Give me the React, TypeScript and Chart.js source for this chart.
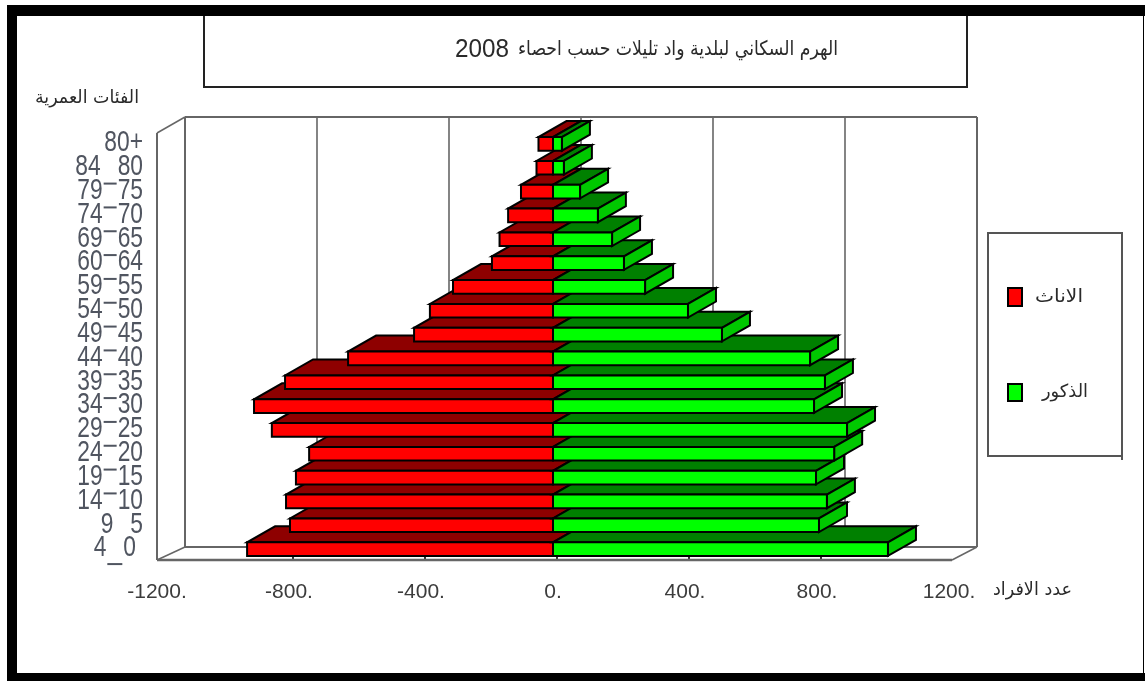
import React, { useEffect, useRef } from "react";
import { Chart, registerables } from "chart.js";

Chart.register(...registerables);

const ageGroups = ["80+", "84 80", "79¯75", "74¯70", "69¯65", "60¯64", "59¯55", "54¯50", "49¯45", "44¯40", "39¯35", "34¯30", "29¯25", "24¯20", "19¯15", "14¯10", "9 5", "4_0"];
const females = [-44, -50, -97, -136, -162, -185, -303, -373, -421, -621, -812, -906, -852, -739, -779, -809, -797, -927];
const males = [27, 33, 82, 136, 179, 215, 279, 409, 512, 779, 824, 791, 891, 852, 797, 830, 806, 1015];
const femaleLabel = "الاناث";
const maleLabel = "الذكور";
const titleText = "الهرم السكاني لبلدية واد تليلات حسب احصاء";
const titleYear = "2008";
const xAxisTitle = "عدد الافراد";
const yAxisTitle = "الفئات العمرية";
const xTickStep = 400;
const xLimit = 1200;

const RED = "#ff0000", RED_TOP = "#8e0000";
const GREEN = "#00ff00", GREEN_TOP = "#008000", GREEN_SIDE = "#00c800";
const WALL = "#666666";
const LABEL = "#505560";
const ARABIC = '"DejaVu Sans", sans-serif';
const LATIN = '"Liberation Sans", sans-serif';

function fitText(ctx: CanvasRenderingContext2D, text: string, left: number, right: number, cy: number, size: number, color = "#2a2a2a", font = ARABIC) {
  ctx.save();
  ctx.font = `${size}px ${font}`;
  ctx.fillStyle = color;
  ctx.textAlign = "left";
  ctx.textBaseline = "middle";
  const w = ctx.measureText(text).width;
  ctx.translate(left, cy);
  ctx.scale((right - left) / w, 1);
  ctx.fillText(text, 0, 0);
  ctx.restore();
}

function narrowRight(ctx: CanvasRenderingContext2D, text: string, right: number, cy: number) {
  ctx.save();
  ctx.font = `30px ${LATIN}`;
  ctx.fillStyle = LABEL;
  ctx.textAlign = "right";
  ctx.textBaseline = "middle";
  ctx.translate(right, cy);
  ctx.scale(0.76, 1);
  ctx.fillText(text, 0, 0);
  ctx.restore();
}

function line(ctx: CanvasRenderingContext2D, pts: number[][], color: string, width: number) {
  ctx.strokeStyle = color;
  ctx.lineWidth = width;
  ctx.beginPath();
  pts.forEach(([x, y], i) => (i ? ctx.lineTo(x, y) : ctx.moveTo(x, y)));
  ctx.stroke();
}

function poly(ctx: CanvasRenderingContext2D, pts: number[][], fill: string) {
  ctx.beginPath();
  pts.forEach(([x, y], i) => (i ? ctx.lineTo(x, y) : ctx.moveTo(x, y)));
  ctx.closePath();
  ctx.fillStyle = fill;
  ctx.fill();
  ctx.strokeStyle = "#000";
  ctx.lineWidth = 2;
  ctx.lineJoin = "miter";
  ctx.stroke();
}

const pyramidPlugin = {
  id: "pyramid3d",
  beforeDraw(chart: any) {
    const { ctx, width, height } = chart;
    ctx.save();
    ctx.fillStyle = "#fff";
    ctx.fillRect(0, 0, width, height);
    // frame
    ctx.fillStyle = "#000";
    ctx.fillRect(7, 5, width - 7, 11);
    ctx.fillRect(7, 5, 10, height - 5);
    ctx.fillRect(7, 673, width - 7, 8);
    ctx.fillRect(1143, 5, 1, height - 5);
    // title box
    line(ctx, [[204, 16], [204, 87], [967, 87], [967, 16]], "#222", 2);
    fitText(ctx, titleText, 518, 838, 50, 20);
    fitText(ctx, titleYear, 455, 509, 50, 25, "#2a2a2a", LATIN);
    fitText(ctx, yAxisTitle, 35, 139, 98, 18);
    fitText(ctx, xAxisTitle, 993, 1072, 590, 18);
    // legend
    line(ctx, [[988, 233], [1122, 233], [1122, 460]], "#555", 2);
    line(ctx, [[988, 232], [988, 456], [1122, 456]], "#555", 2);
    const ds = chart.data.datasets;
    poly(ctx, [[1008, 288], [1022, 288], [1022, 306], [1008, 306]], ds[0].backgroundColor);
    poly(ctx, [[1008, 384], [1022, 384], [1022, 401], [1008, 401]], ds[1].backgroundColor);
    fitText(ctx, ds[0].label, 1035, 1083, 297, 18);
    fitText(ctx, ds[1].label, 1042, 1088, 392, 18);
    ctx.restore();
  },
  beforeDatasetsDraw(chart: any) {
    const { ctx, chartArea, scales } = chart;
    const x = scales.x;
    const y = scales.y;
    const dx = 28, top = 117, backBottom = 547, frontTop = 133, floor = chartArea.bottom - 1;
    ctx.save();
    const L = chartArea.left, R = chartArea.right;
    for (const t of x.ticks) {
      const px = x.getPixelForValue(t.value) + dx;
      const edge = t.value === xLimit || t.value === -xLimit;
      line(ctx, [[px, top], [px, backBottom]], WALL, edge ? 2 : 1.6);
      if (!edge) {
        const fx = x.getPixelForValue(t.value) + 4;
        line(ctx, [[fx, floor - 4], [fx, floor]], "#333", 2);
      }
    }
    line(ctx, [[L + dx, top], [R + dx, top]], WALL, 2);
    line(ctx, [[L + dx, backBottom], [R + dx, backBottom]], WALL, 2);
    line(ctx, [[L, frontTop], [L + dx, top]], WALL, 1.5);
    line(ctx, [[L, frontTop], [L, floor]], WALL, 2);
    line(ctx, [[L, floor], [L + dx, backBottom]], WALL, 1.5);
    line(ctx, [[R + 3, floor], [R + dx, backBottom]], WALL, 1.5);
    line(ctx, [[L, floor], [R + 3, floor]], WALL, 2.5);

    // condensed age-group labels, positioned by the category scale
    y.ticks.forEach((_: any, i: number) => {
      const label = y.getLabelForValue(i);
      const cy = y.getPixelForTick(i) - 1;
      const m = label.match(/^(\d+)([¯_ ])(\d+)$/);
      if (!m) {
        narrowRight(ctx, label, 143, cy);
        return;
      }
      const [, a, sep, b] = m;
      const right = sep === "_" ? 136 : 143;
      ctx.font = `30px ${LATIN}`;
      const bw = ctx.measureText(b).width * 0.76;
      const gap = sep === "¯" ? 15 : 17;
      narrowRight(ctx, b, right, cy);
      narrowRight(ctx, a, right - bw - gap, cy);
      const gx0 = right - bw - gap + 1, gx1 = right - bw - 1;
      if (sep === "¯") {
        ctx.fillStyle = LABEL;
        ctx.fillRect(gx0, cy - 8, gx1 - gx0, 2);
      } else if (sep === "_") {
        ctx.fillStyle = LABEL;
        ctx.fillRect(gx0, cy + 15, gx1 - gx0, 2);
      }
    });
    ctx.restore();
  },
  afterDatasetsDraw(chart: any) {
    const { ctx } = chart;
    const red = chart.getDatasetMeta(0).data;
    const green = chart.getDatasetMeta(1).data;
    const dx = 28, dy = 16;
    ctx.save();
    for (let i = red.length - 1; i >= 0; i--) {
      const r = red[i], g = green[i];
      const h = r.height / 2;
      const t = r.y - h, b = r.y + h;
      const zero = r.base, rx = r.x, gx = g.x;
      poly(ctx, [[rx, t], [zero, t], [zero + dx, t - dy], [rx + dx, t - dy]], RED_TOP);
      poly(ctx, [[rx, t], [zero, t], [zero, b], [rx, b]], RED);
      poly(ctx, [[zero, t], [gx, t], [gx + dx, t - dy], [zero + dx, t - dy]], GREEN_TOP);
      poly(ctx, [[gx, t], [gx + dx, t - dy], [gx + dx, b - dy], [gx, b]], GREEN_SIDE);
      poly(ctx, [[zero, t], [gx, t], [gx, b], [zero, b]], GREEN);
    }
    ctx.restore();
  },
};

export default function App() {
  const ref = useRef<HTMLCanvasElement>(null);
  useEffect(() => {
    const chart = new Chart(ref.current as HTMLCanvasElement, {
      type: "bar",
      data: {
        labels: ageGroups,
        datasets: [
          { label: femaleLabel, data: females, backgroundColor: RED, borderWidth: 0 },
          { label: maleLabel, data: males, backgroundColor: GREEN, borderWidth: 0 },
        ],
      },
      options: {
        indexAxis: "y",
        responsive: false,
        animation: false,
        layout: { padding: { left: 0, right: 196, top: 132, bottom: 0 } },
        plugins: { legend: { display: false }, tooltip: { enabled: false }, title: { display: false } },
        datasets: { bar: { barPercentage: 0.57, categoryPercentage: 1 } },
        scales: {
          x: {
            type: "linear",
            stacked: true,
            min: -xLimit,
            max: xLimit,
            afterFit: (s: any) => { s.height = 120; },
            grid: { display: false, drawTicks: false },
            border: { display: false },
            ticks: {
              stepSize: xTickStep,
              padding: 19,
              maxRotation: 0,
              color: "#3c3c3c",
              font: { family: LATIN, size: 21 },
              callback: (v: any) => `${v}.`,
            },
          },
          y: {
            type: "category",
            stacked: true,
            afterFit: (s: any) => { s.width = 157; },
            grid: { display: false, drawTicks: false },
            border: { display: false },
            ticks: { display: false, autoSkip: false },
          },
        },
      },
      plugins: [pyramidPlugin],
    } as any);
    return () => chart.destroy();
  }, []);
  return (
    <canvas
      ref={ref}
      width={1145}
      height={681}
      style={{ position: "absolute", left: 0, top: 0, display: "block" }}
    />
  );
}
